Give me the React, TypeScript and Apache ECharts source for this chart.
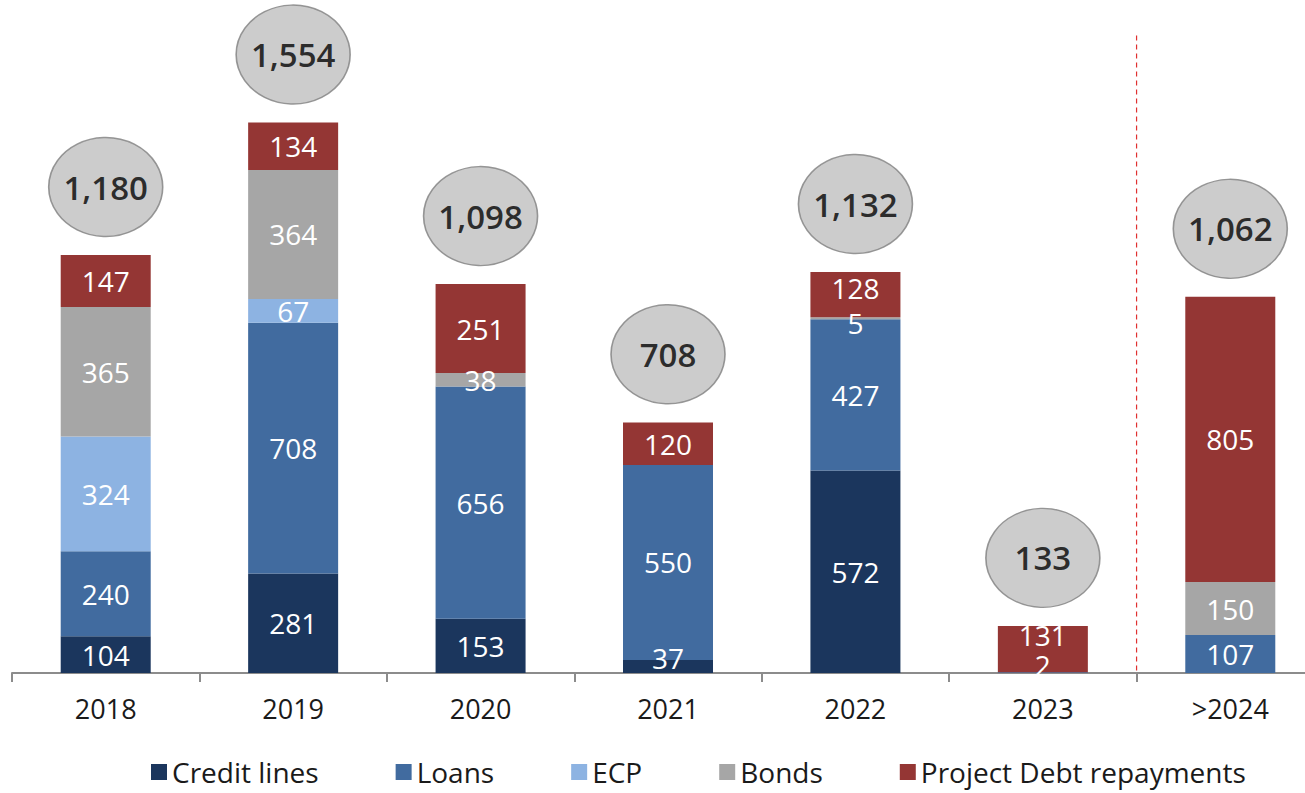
import React, { useEffect, useRef } from "react";
import * as echarts from "echarts";

const categories = ["2018", "2019", "2020", "2021", "2022", "2023", ">2024"];
const creditLines = [104, 281, 153, 37, 572, 0, 0];
const loans = [240, 708, 656, 550, 427, 2, 107];
const ecp = [324, 67, 0, 0, 0, 0, 0];
const bonds = [365, 364, 38, 0, 5, 0, 150];
const projectDebt = [147, 134, 251, 120, 128, 131, 805];
const totals = [1180, 1554, 1098, 708, 1132, 133, 1062];

const FONT = "'Open Sans', sans-serif";

// label nudges for thin segments (series name -> category index -> [dx, dy])
const labelNudges: Record<string, Record<number, [number, number]>> = {
  "Credit lines": { 3: [0, -8] },
  Loans: { 5: [0, -8] },
  Bonds: { 4: [0, 5] },
  "Project Debt repayments": { 4: [0, -7], 5: [0, -14] },
};

export default function App() {
  const ref = useRef<HTMLDivElement>(null);
  useEffect(() => {
    if (!ref.current) return;
    const chart = echarts.init(ref.current, undefined, { renderer: "svg" });
    const mk = (name: string, data: number[], color: string) => ({
      name,
      type: "bar",
      stack: "total",
      barWidth: 90,
      data: data.map((v, i) => {
        if (v === 0) return null;
        const n = labelNudges[name] && labelNudges[name][i];
        return n ? { value: v, label: { offset: n } } : v;
      }),
      itemStyle: { color },
      label: {
        show: true,
        position: "inside",
        color: "#fff",
        fontFamily: FONT,
        fontSize: 28,
        lineHeight: 22,
      },
    });
    chart.setOption({
      animation: false,
      textStyle: { fontFamily: FONT },
      grid: { left: 12, right: 6, top: 0, bottom: 120 },
      legend: {
        bottom: 2,
        left: 146,
        itemWidth: 16,
        itemHeight: 16,
        itemGap: 77,
        icon: "rect",
        textStyle: { fontSize: 28, color: "#1a1a1a", fontFamily: FONT },
        data: ["Credit lines", "Loans", "ECP", "Bonds", "Project Debt repayments"],
      },
      xAxis: {
        type: "category",
        data: categories,
        axisLine: { lineStyle: { color: "#8c8c8c", width: 2 } },
        axisTick: { show: true, length: 9, lineStyle: { color: "#8c8c8c", width: 2 } },
        axisLabel: { fontSize: 27, color: "#1a1a1a", margin: 22, fontFamily: FONT },
      },
      yAxis: {
        type: "value",
        min: 0,
        max: 1900,
        show: false,
        splitLine: { show: false },
      },
      series: [
        mk("Credit lines", creditLines, "#1b365d"),
        mk("Loans", loans, "#416b9f"),
        mk("ECP", ecp, "#8db3e2"),
        mk("Bonds", bonds, "#a6a6a6"),
        mk("Project Debt repayments", projectDebt, "#943634"),
        {
          name: "Total",
          type: "scatter",
          data: totals,
          symbol: "circle",
          symbolSize: [114, 99],
          symbolOffset: [0, -68],
          itemStyle: { color: "#bfbfbf", borderColor: "#7f7f7f", borderWidth: 1.5 },
          label: {
            show: true,
            position: "inside",
            color: "#000",
            fontSize: 33,
            fontWeight: 600,
            fontFamily: FONT,
            formatter: (p: any) => p.value.toLocaleString("en-US"),
          },
          z: 5,
        },
      ],
    });
    const a = chart.convertToPixel({ xAxisIndex: 0 }, "2023") as number;
    const b = chart.convertToPixel({ xAxisIndex: 0 }, ">2024") as number;
    const yTop = chart.convertToPixel({ yAxisIndex: 0 }, 1800) as number;
    const yBot = chart.convertToPixel({ yAxisIndex: 0 }, 0) as number;
    const xm = (a + b) / 2;
    chart.setOption({
      graphic: [
        {
          type: "line",
          shape: { x1: xm, y1: yTop, x2: xm, y2: yBot },
          style: { stroke: "#e03030", lineWidth: 1.2, lineDash: [5, 4] },
          z: 1,
        },
      ],
    });
    return () => chart.dispose();
  }, []);
  return (
    <div
      ref={ref}
      style={{ position: "fixed", left: 0, top: 0, width: 1330, height: 793, background: "#fff" }}
    />
  );
}
